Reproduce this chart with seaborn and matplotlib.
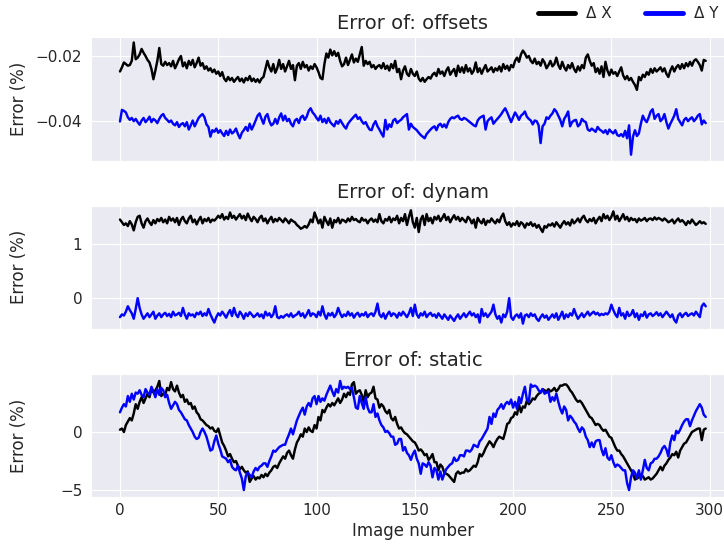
import matplotlib
matplotlib.use("Agg")
import matplotlib.pyplot as plt
import seaborn as sns
import numpy as np

# ---------------- data ----------------
offsets_dx = [
    -0.0248, -0.0235, -0.0220, -0.0225, -0.0230, -0.0228, -0.0215, -0.0158, -0.0210, -0.0205,
    -0.0195, -0.0178, -0.0190, -0.0200, -0.0212, -0.0220, -0.0240, -0.0272, -0.0245, -0.0215,
    -0.0175, -0.0225, -0.0230, -0.0218, -0.0228, -0.0222, -0.0232, -0.0215, -0.0238, -0.0225,
    -0.0210, -0.0200, -0.0232, -0.0220, -0.0238, -0.0215, -0.0228, -0.0212, -0.0235, -0.0222,
    -0.0205, -0.0230, -0.0222, -0.0240, -0.0232, -0.0245, -0.0238, -0.0250, -0.0242, -0.0255,
    -0.0248, -0.0262, -0.0250, -0.0270, -0.0278, -0.0265, -0.0275, -0.0268, -0.0280, -0.0272,
    -0.0265, -0.0278, -0.0270, -0.0282, -0.0268, -0.0275, -0.0262, -0.0278, -0.0270, -0.0280,
    -0.0272, -0.0282, -0.0270, -0.0265, -0.0240, -0.0215, -0.0235, -0.0248, -0.0225, -0.0252,
    -0.0238, -0.0212, -0.0240, -0.0225, -0.0248, -0.0232, -0.0215, -0.0240, -0.0228, -0.0275,
    -0.0230, -0.0222, -0.0240, -0.0218, -0.0235, -0.0228, -0.0245, -0.0232, -0.0240, -0.0225,
    -0.0235, -0.0250, -0.0268, -0.0272, -0.0225, -0.0192, -0.0205, -0.0180, -0.0198, -0.0185,
    -0.0200, -0.0190, -0.0215, -0.0232, -0.0225, -0.0205, -0.0228, -0.0212, -0.0195, -0.0220,
    -0.0208, -0.0218, -0.0195, -0.0172, -0.0230, -0.0215, -0.0225, -0.0218, -0.0235, -0.0228,
    -0.0240, -0.0232, -0.0228, -0.0238, -0.0222, -0.0240, -0.0230, -0.0245, -0.0225, -0.0238,
    -0.0215, -0.0250, -0.0240, -0.0272, -0.0245, -0.0232, -0.0255, -0.0262, -0.0240, -0.0255,
    -0.0262, -0.0248, -0.0270, -0.0278, -0.0268, -0.0280, -0.0272, -0.0265, -0.0270, -0.0258,
    -0.0252, -0.0262, -0.0240, -0.0255, -0.0248, -0.0262, -0.0245, -0.0235, -0.0258, -0.0248,
    -0.0240, -0.0262, -0.0230, -0.0250, -0.0235, -0.0252, -0.0228, -0.0248, -0.0238, -0.0255,
    -0.0245, -0.0220, -0.0250, -0.0238, -0.0255, -0.0240, -0.0228, -0.0248, -0.0242, -0.0235,
    -0.0250, -0.0238, -0.0245, -0.0232, -0.0248, -0.0225, -0.0240, -0.0230, -0.0245, -0.0228,
    -0.0235, -0.0215, -0.0205, -0.0218, -0.0195, -0.0183, -0.0192, -0.0205, -0.0200, -0.0215,
    -0.0222, -0.0208, -0.0225, -0.0218, -0.0230, -0.0210, -0.0220, -0.0238, -0.0228, -0.0215,
    -0.0232, -0.0225, -0.0205, -0.0228, -0.0240, -0.0218, -0.0235, -0.0245, -0.0228, -0.0238,
    -0.0222, -0.0240, -0.0250, -0.0232, -0.0245, -0.0228, -0.0238, -0.0205, -0.0195, -0.0215,
    -0.0230, -0.0222, -0.0250, -0.0238, -0.0255, -0.0232, -0.0265, -0.0218, -0.0245, -0.0260,
    -0.0242, -0.0255, -0.0250, -0.0262, -0.0248, -0.0235, -0.0260, -0.0272, -0.0262, -0.0275,
    -0.0268, -0.0280, -0.0290, -0.0305, -0.0265, -0.0275, -0.0258, -0.0265, -0.0250, -0.0258,
    -0.0240, -0.0252, -0.0238, -0.0248, -0.0242, -0.0235, -0.0248, -0.0238, -0.0255, -0.0265,
    -0.0245, -0.0232, -0.0248, -0.0235, -0.0228, -0.0240, -0.0225, -0.0238, -0.0222, -0.0232,
    -0.0218, -0.0230, -0.0215, -0.0210, -0.0218, -0.0228, -0.0245, -0.0212, -0.0215,
]

offsets_dy = [
    -0.0403, -0.0367, -0.0370, -0.0375, -0.0390, -0.0398, -0.0392, -0.0402, -0.0395, -0.0405,
    -0.0413, -0.0400, -0.0392, -0.0405, -0.0398, -0.0388, -0.0405, -0.0395, -0.0400, -0.0408,
    -0.0395, -0.0385, -0.0380, -0.0392, -0.0398, -0.0405, -0.0400, -0.0410, -0.0415, -0.0405,
    -0.0420, -0.0412, -0.0408, -0.0418, -0.0405, -0.0428, -0.0415, -0.0400, -0.0418, -0.0405,
    -0.0392, -0.0385, -0.0380, -0.0390, -0.0412, -0.0420, -0.0450, -0.0430, -0.0435, -0.0425,
    -0.0438, -0.0430, -0.0440, -0.0448, -0.0432, -0.0445, -0.0428, -0.0440, -0.0435, -0.0425,
    -0.0442, -0.0455, -0.0438, -0.0430, -0.0420, -0.0432, -0.0410, -0.0428, -0.0415, -0.0400,
    -0.0385, -0.0378, -0.0395, -0.0410, -0.0388, -0.0380, -0.0402, -0.0415, -0.0410, -0.0395,
    -0.0410, -0.0390, -0.0378, -0.0400, -0.0385, -0.0402, -0.0395, -0.0410, -0.0418, -0.0400,
    -0.0395, -0.0408, -0.0390, -0.0385, -0.0398, -0.0388, -0.0370, -0.0362, -0.0375, -0.0382,
    -0.0392, -0.0400, -0.0385, -0.0405, -0.0395, -0.0408, -0.0392, -0.0405, -0.0412, -0.0418,
    -0.0402, -0.0410, -0.0398, -0.0408, -0.0418, -0.0425, -0.0410, -0.0402, -0.0395, -0.0388,
    -0.0382, -0.0395, -0.0390, -0.0402, -0.0410, -0.0405, -0.0418, -0.0428, -0.0430, -0.0412,
    -0.0402, -0.0418, -0.0428, -0.0440, -0.0450, -0.0398, -0.0428, -0.0412, -0.0420, -0.0400,
    -0.0395, -0.0408, -0.0402, -0.0398, -0.0390, -0.0385, -0.0380, -0.0428, -0.0410, -0.0420,
    -0.0425, -0.0430, -0.0438, -0.0445, -0.0450, -0.0455, -0.0442, -0.0435, -0.0428, -0.0422,
    -0.0418, -0.0430, -0.0415, -0.0410, -0.0420, -0.0412, -0.0422, -0.0405, -0.0395, -0.0390,
    -0.0393, -0.0388, -0.0385, -0.0395, -0.0398, -0.0392, -0.0395, -0.0400, -0.0405, -0.0410,
    -0.0415, -0.0418, -0.0400, -0.0392, -0.0388, -0.0385, -0.0428, -0.0402, -0.0395, -0.0390,
    -0.0410, -0.0402, -0.0395, -0.0388, -0.0380, -0.0370, -0.0362, -0.0375, -0.0390, -0.0405,
    -0.0390, -0.0375, -0.0385, -0.0398, -0.0385, -0.0380, -0.0372, -0.0388, -0.0395, -0.0400,
    -0.0412, -0.0400, -0.0402, -0.0415, -0.0470, -0.0418, -0.0410, -0.0390, -0.0395, -0.0385,
    -0.0378, -0.0365, -0.0372, -0.0385, -0.0398, -0.0418, -0.0395, -0.0385, -0.0372, -0.0418,
    -0.0405, -0.0400, -0.0398, -0.0418, -0.0412, -0.0395, -0.0402, -0.0405, -0.0428, -0.0432,
    -0.0425, -0.0430, -0.0435, -0.0420, -0.0428, -0.0432, -0.0438, -0.0430, -0.0442, -0.0428,
    -0.0435, -0.0440, -0.0430, -0.0445, -0.0448, -0.0442, -0.0450, -0.0432, -0.0455, -0.0415,
    -0.0506, -0.0450, -0.0430, -0.0448, -0.0440, -0.0410, -0.0385, -0.0398, -0.0405, -0.0390,
    -0.0372, -0.0365, -0.0395, -0.0385, -0.0380, -0.0402, -0.0395, -0.0380, -0.0405, -0.0425,
    -0.0410, -0.0398, -0.0385, -0.0365, -0.0395, -0.0405, -0.0415, -0.0398, -0.0392, -0.0402,
    -0.0395, -0.0390, -0.0402, -0.0395, -0.0385, -0.0380, -0.0412, -0.0400, -0.0408,
]

dynam_dx = [
    1.45, 1.40, 1.35, 1.38, 1.33, 1.42, 1.36, 1.25, 1.40, 1.50,
    1.52, 1.38, 1.30, 1.42, 1.47, 1.40, 1.35, 1.44, 1.38, 1.46,
    1.42, 1.48, 1.40, 1.45, 1.38, 1.50, 1.43, 1.47, 1.40, 1.48,
    1.35, 1.45, 1.50, 1.42, 1.38, 1.47, 1.52, 1.40, 1.45, 1.36,
    1.44, 1.50, 1.38, 1.46, 1.42, 1.48, 1.40, 1.45, 1.43, 1.47,
    1.52, 1.48, 1.55, 1.45, 1.50, 1.46, 1.58, 1.48, 1.52, 1.45,
    1.50, 1.55, 1.47, 1.52, 1.44, 1.56, 1.48, 1.42, 1.50, 1.46,
    1.40, 1.48, 1.52, 1.42, 1.47, 1.38, 1.45, 1.50, 1.40, 1.46,
    1.42, 1.48, 1.44, 1.40, 1.47, 1.43, 1.38, 1.45, 1.42, 1.40,
    1.35, 1.32, 1.28, 1.30, 1.33, 1.30, 1.36, 1.45, 1.40, 1.58,
    1.48, 1.38, 1.45, 1.30, 1.50, 1.42, 1.35, 1.47, 1.30, 1.44,
    1.40, 1.48, 1.38, 1.45, 1.43, 1.40, 1.47, 1.42, 1.50, 1.44,
    1.46, 1.42, 1.40, 1.48, 1.43, 1.45, 1.38, 1.44, 1.47, 1.41,
    1.45, 1.40, 1.55, 1.42, 1.38, 1.46, 1.43, 1.50, 1.40, 1.47,
    1.44, 1.52, 1.38, 1.48, 1.42, 1.55, 1.35, 1.50, 1.62, 1.40,
    1.30, 1.48, 1.22, 1.45, 1.52, 1.35, 1.55, 1.42, 1.48, 1.38,
    1.50, 1.45, 1.52, 1.42, 1.48, 1.55, 1.44, 1.50, 1.40, 1.47,
    1.53, 1.45, 1.50, 1.42, 1.48, 1.44, 1.40, 1.50, 1.46, 1.38,
    1.45, 1.30, 1.48, 1.42, 1.38, 1.46, 1.35, 1.43, 1.40, 1.47,
    1.42, 1.38, 1.45, 1.40, 1.50, 1.56, 1.42, 1.35, 1.40, 1.32,
    1.38, 1.35, 1.42, 1.33, 1.40, 1.37, 1.30, 1.38, 1.35, 1.40,
    1.33, 1.37, 1.30, 1.35, 1.28, 1.22, 1.33, 1.30, 1.36, 1.34,
    1.38, 1.32, 1.40, 1.35, 1.30, 1.37, 1.42, 1.36, 1.40, 1.34,
    1.45, 1.38, 1.42, 1.47, 1.40, 1.48, 1.52, 1.44, 1.40, 1.46,
    1.42, 1.48, 1.38, 1.45, 1.50, 1.42, 1.55, 1.47, 1.52, 1.44,
    1.50, 1.60, 1.45, 1.52, 1.42, 1.48, 1.55, 1.45, 1.50, 1.42,
    1.48, 1.44, 1.46, 1.40, 1.47, 1.43, 1.45, 1.48, 1.42, 1.46,
    1.47, 1.44, 1.49, 1.45, 1.48, 1.46, 1.43, 1.47, 1.44, 1.40,
    1.42, 1.45, 1.38, 1.43, 1.47, 1.41, 1.44, 1.40, 1.35, 1.42,
    1.38, 1.45, 1.40, 1.35, 1.38, 1.42, 1.38, 1.40, 1.37,
]

dynam_dy = [
    -0.35, -0.30, -0.32, -0.25, -0.15, -0.22, -0.28, -0.38, -0.20, 0.00,
    -0.18, -0.30, -0.38, -0.33, -0.28, -0.35, -0.30, -0.25, -0.38, -0.32,
    -0.28, -0.35, -0.30, -0.27, -0.33, -0.29, -0.35, -0.25, -0.32, -0.30,
    -0.27, -0.33, -0.18, -0.30, -0.38, -0.28, -0.32, -0.30, -0.35, -0.27,
    -0.30, -0.25, -0.33, -0.28, -0.32, -0.20, -0.30, -0.38, -0.45, -0.35,
    -0.28, -0.32, -0.25, -0.30, -0.36, -0.28, -0.22, -0.33, -0.18, -0.30,
    -0.35, -0.25, -0.30, -0.38, -0.28, -0.33, -0.26, -0.30, -0.35, -0.32,
    -0.28, -0.34, -0.30, -0.37, -0.25, -0.32, -0.28, -0.35, -0.30, -0.15,
    -0.35, -0.37, -0.33, -0.36, -0.32, -0.30, -0.34, -0.28, -0.35, -0.32,
    -0.30, -0.25, -0.33, -0.28, -0.36, -0.30, -0.22, -0.33, -0.28, -0.30,
    -0.35, -0.25, -0.32, -0.15, -0.30, -0.38, -0.28, -0.32, -0.27, -0.35,
    -0.30, -0.18, -0.28, -0.35, -0.30, -0.33, -0.25, -0.32, -0.28, -0.36,
    -0.30, -0.27, -0.34, -0.29, -0.32, -0.26, -0.35, -0.30, -0.28, -0.33,
    -0.25, -0.10, -0.30, -0.35, -0.28, -0.38, -0.30, -0.25, -0.33, -0.28,
    -0.30, -0.36, -0.27, -0.32, -0.25, -0.30, -0.35, -0.28, -0.18, -0.33,
    -0.12, -0.30, -0.36, -0.28, -0.32, -0.25, -0.35, -0.30, -0.27, -0.33,
    -0.30, -0.36, -0.28, -0.33, -0.38, -0.30, -0.35, -0.40, -0.32, -0.37,
    -0.42, -0.35, -0.30, -0.38, -0.33, -0.28, -0.35, -0.30, -0.25, -0.32,
    -0.28, -0.35, -0.30, -0.45, -0.20, -0.33, -0.28, -0.35, -0.30, -0.25,
    -0.12, -0.30, -0.38, -0.33, -0.45, -0.30, -0.35, -0.25, 0.00, -0.35,
    -0.40, -0.33, -0.30, -0.36, -0.28, -0.47, -0.32, -0.30, -0.35, -0.28,
    -0.33, -0.30, -0.38, -0.42, -0.35, -0.30, -0.36, -0.32, -0.40, -0.35,
    -0.30, -0.36, -0.28, -0.40, -0.33, -0.25, -0.38, -0.30, -0.35, -0.28,
    -0.32, -0.20, -0.30, -0.38, -0.33, -0.28, -0.35, -0.30, -0.25, -0.32,
    -0.28, -0.25, -0.30, -0.27, -0.32, -0.29, -0.31, -0.28, -0.30, -0.25,
    -0.12, -0.22, -0.30, -0.35, -0.18, -0.32, -0.28, -0.38, -0.25, -0.33,
    -0.30, -0.22, -0.35, -0.28, -0.40, -0.30, -0.33, -0.25, -0.36, -0.30,
    -0.28, -0.33, -0.30, -0.26, -0.32, -0.28, -0.35, -0.30, -0.25, -0.30,
    -0.35, -0.30, -0.40, -0.45, -0.32, -0.28, -0.35, -0.30, -0.27, -0.33,
    -0.30, -0.28, -0.32, -0.25, -0.30, -0.35, -0.15, -0.10, -0.15,
]

static_dx = [
    0.2, 0.3, 0.0, 0.6, 0.9, 1.2, 1.0, 1.6, 2.4, 2.0,
    2.6, 3.0, 2.5, 2.9, 3.3, 3.0, 3.7, 3.4, 3.6, 3.9,
    4.4, 3.1, 3.3, 3.2, 3.8, 3.6, 4.3, 3.7, 3.5, 4.0,
    3.4, 3.0, 3.2, 2.6, 2.8, 2.4, 2.5, 2.0, 2.2, 1.7,
    1.5, 1.1, 1.0, 0.8, 0.6, 0.5, 0.3, 0.4, 0.1, 0.0,
    0.3, -0.3, -0.9, -1.2, -1.6, -2.1, -1.9, -2.3, -2.6, -2.5,
    -2.9, -3.2, -3.0, -3.3, -3.5, -3.4, -4.3, -4.0, -3.8, -4.1,
    -3.9, -4.0, -3.7, -3.9, -3.6, -3.8, -3.5, -3.3, -3.0, -2.9,
    -3.1, -2.7, -2.4, -2.1, -2.3, -1.8, -1.6, -2.0, -2.3, -1.5,
    -0.9, -0.6, -0.2, -0.4, 0.3, 0.0, 0.4, 0.1, 0.0, 0.6,
    0.3, 1.3, 1.0, 1.9, 1.7, 2.1, 2.4, 2.2, 2.5, 2.3,
    2.6, 2.9, 2.5, 2.8, 3.3, 3.0, 3.4, 3.2, 4.1, 4.3,
    3.3, 3.5, 3.6, 3.2, 2.6, 3.6, 3.0, 3.3, 3.4, 3.9,
    2.9, 2.8, 2.1, 2.4, 2.2, 1.8, 1.6, 1.9, 1.2, 1.0,
    1.3, 0.7, 0.3, 0.4, 0.1, -0.1, -0.2, -0.4, -0.6, -0.8,
    -0.9, -1.2, -1.6, -1.5, -1.7, -2.0, -1.9, -2.4, -2.2, -1.9,
    -2.6, -2.6, -3.3, -2.8, -3.0, -3.5, -3.6, -3.7, -3.9, -4.1,
    -4.3, -3.6, -3.4, -3.6, -3.5, -3.5, -3.2, -3.4, -3.3, -3.1,
    -2.9, -3.0, -2.6, -1.9, -2.1, -1.8, -1.4, -1.1, -0.8, -1.0,
    -1.3, -0.9, -0.6, -0.4, -0.5, -0.6, 0.0, 0.7, 0.8, 1.2,
    1.3, 1.7, 1.5, 2.4, 1.7, 2.2, 2.1, 2.7, 2.4, 2.6,
    2.9, 2.8, 3.1, 3.3, 3.4, 3.7, 3.6, 3.5, 3.7, 3.5,
    3.6, 3.8, 3.5, 3.7, 4.0, 4.0, 4.1, 4.1, 3.9, 3.6,
    3.4, 3.1, 2.8, 2.6, 2.7, 2.5, 2.2, 1.9, 1.6, 1.3,
    1.2, 0.9, 0.6, 0.7, 0.6, 0.3, 0.1, 0.2, -0.1, -0.4,
    -0.5, -0.9, -1.3, -1.6, -1.6, -1.9, -2.1, -2.4, -2.7, -3.0,
    -3.3, -3.6, -4.1, -4.0, -3.9, -3.7, -3.8, -4.1, -4.0, -3.9,
    -4.1, -4.0, -3.8, -3.6, -3.3, -3.0, -3.3, -2.9, -2.7, -2.4,
    -2.2, -1.9, -2.0, -1.7, -2.2, -1.6, -1.3, -1.0, -0.9, -0.6,
    -0.3, 0.0, 0.1, 0.2, 0.3, 0.3, -0.7, 0.2, 0.3,
]

static_dy = [
    1.7, 2.1, 2.4, 2.2, 3.1, 2.6, 3.3, 2.8, 3.4, 3.3,
    3.6, 3.2, 3.0, 3.7, 3.4, 3.2, 3.9, 3.5, 3.0, 3.7,
    3.2, 3.8, 3.6, 3.0, 3.2, 2.5, 2.0, 2.3, 2.6, 2.4,
    1.9, 1.7, 1.4, 1.1, 1.0, 0.6, 0.3, 0.0, -0.4, -0.6,
    -0.5, 0.0, 0.3, 0.0, -0.4, -1.0, -1.6, -1.5, -0.8, -0.3,
    -1.0, -1.5, -2.1, -2.2, -2.3, -2.6, -2.4, -3.0, -3.2, -3.3,
    -2.9, -3.5, -4.0, -5.0, -3.8, -3.5, -3.7, -3.9, -3.4, -3.1,
    -3.3, -3.0, -2.9, -2.7, -2.7, -3.0, -2.5, -2.1, -1.6, -1.7,
    -1.5, -1.3, -1.2, -1.1, -1.1, -0.6, -0.2, 0.3, -0.2, 0.4,
    1.0, 1.4, 1.8, 2.1, 1.5, 2.2, 2.5, 2.2, 2.9, 3.1,
    2.4, 3.1, 2.6, 2.9, 2.7, 3.2, 3.6, 4.0, 3.5, 3.1,
    3.7, 3.4, 4.4, 3.7, 3.9, 3.8, 3.9, 3.7, 3.8, 3.0,
    2.1, 2.0, 3.1, 2.5, 2.0, 3.0, 2.1, 1.7, 1.7, 2.4,
    1.3, 1.6, 1.0, 0.6, 0.4, 0.0, 0.1, -0.1, -0.4, -0.4,
    -1.1, -1.0, -0.6, -0.6, -1.6, -1.3, -1.8, -2.0, -2.4, -1.9,
    -1.6, -2.3, -2.7, -3.6, -2.7, -2.8, -3.0, -2.6, -2.9, -3.9,
    -3.1, -3.3, -4.1, -3.4, -4.1, -3.6, -3.2, -3.0, -2.8, -2.7,
    -2.2, -2.5, -2.4, -2.0, -2.0, -2.1, -1.6, -1.6, -1.7, -1.5,
    -1.1, -1.2, -1.3, -0.8, -0.6, -0.3, 0.0, 0.3, 1.3, 0.7,
    1.6, 1.3, 1.9, 2.1, 2.4, 2.0, 2.4, 2.6, 2.4, 2.8,
    2.1, 2.6, 2.0, 3.0, 2.5, 3.3, 3.9, 2.8, 2.6, 4.1,
    3.9, 4.0, 3.9, 3.6, 3.4, 3.7, 3.3, 3.4, 3.5, 2.6,
    3.0, 2.7, 3.3, 2.6, 2.0, 1.6, 2.2, 1.9, 1.0, 1.4,
    1.2, 0.9, 0.7, 0.3, 0.0, 0.4, 0.2, -0.4, -0.7, -1.3,
    -0.9, -1.3, -0.8, -0.7, -0.7, -1.5, -2.0, -1.4, -2.2, -2.4,
    -2.0, -2.6, -3.0, -2.8, -2.9, -3.1, -3.3, -3.3, -4.4, -5.0,
    -3.9, -3.3, -3.5, -4.0, -3.3, -4.1, -3.3, -2.4, -3.1, -3.3,
    -2.7, -2.6, -2.3, -2.3, -2.1, -1.8, -1.4, -1.2, -1.5, -2.1,
    -0.9, -0.3, -0.7, 0.1, -0.1, 0.2, 0.6, 0.9, 1.1, 1.1,
    0.5, 1.0, 1.4, 1.8, 2.1, 2.4, 2.1, 1.5, 1.3,
]

image_number = list(range(len(static_dx)))
titles = ["Error of: offsets", "Error of: dynam", "Error of: static"]
series_labels = ["\u0394 X", "\u0394 Y"]
x_ticks = [0, 50, 100, 150, 200, 250, 300]
y_ticks = [[-0.04, -0.02], [0, 1], [-5, 0]]
y_limits = [(-0.0524, -0.0141), (-0.56, 1.70), (-5.6, 5.0)]

# ---------------- style ----------------
sns.set_style("darkgrid")
plt.rcParams["font.family"] = ["DejaVu Sans"]

W, H = 724, 548
fig = plt.figure(figsize=(W / 100, H / 100), dpi=100)

left_px, right_px = 90.7, 735.0
panels_px = [(37, 160.5), (206, 328.5), (374, 497)]
axes = []
for top, bot in panels_px:
    ax = fig.add_axes([left_px / W, 1 - bot / H, (right_px - left_px) / W, (bot - top) / H])
    axes.append(ax)

pairs = [(offsets_dx, offsets_dy), (dynam_dx, dynam_dy), (static_dx, static_dy)]
for i, (ax, (dx, dy)) in enumerate(zip(axes, pairs)):
    sns.lineplot(x=image_number, y=dx, color="black", lw=1.75, ax=ax,
                 label=series_labels[0], legend=False, estimator=None)
    sns.lineplot(x=image_number, y=dy, color="#0000ff", lw=1.75, ax=ax,
                 label=series_labels[1], legend=False, estimator=None)
    ax.set_title(titles[i], fontsize=14, color="#262626", pad=6)
    ax.set_ylabel("Error (%)", fontsize=12, color="#262626")
    ax.set_xlim(-14.9, 312.9)
    ax.set_ylim(*y_limits[i])
    ax.set_yticks(y_ticks[i])
    ax.set_xticks(x_ticks)
    ax.tick_params(axis="y", labelsize=11, colors="#262626", length=0, pad=6)
    ax.tick_params(axis="x", labelsize=11, colors="#262626", length=0, pad=4)
    ax.yaxis.set_label_coords(-0.097, 0.5)
    if i < 2:
        ax.set_xticklabels([])
        ax.set_xlabel("")
    else:
        ax.set_xlabel("Image number", fontsize=12, color="#262626", labelpad=3)

handles, labels = axes[0].get_legend_handles_labels()
leg = fig.legend(handles, labels, loc="center left", bbox_to_anchor=(533 / W, 1 - 14 / H),
                 ncol=2, frameon=False, fontsize=11, handlelength=2.45,
                 handletextpad=0.75, columnspacing=2.15, borderaxespad=0, borderpad=0.3)
for ln in leg.get_lines():
    ln.set_linewidth(3.5)

fig.savefig("out.png", dpi=100)
